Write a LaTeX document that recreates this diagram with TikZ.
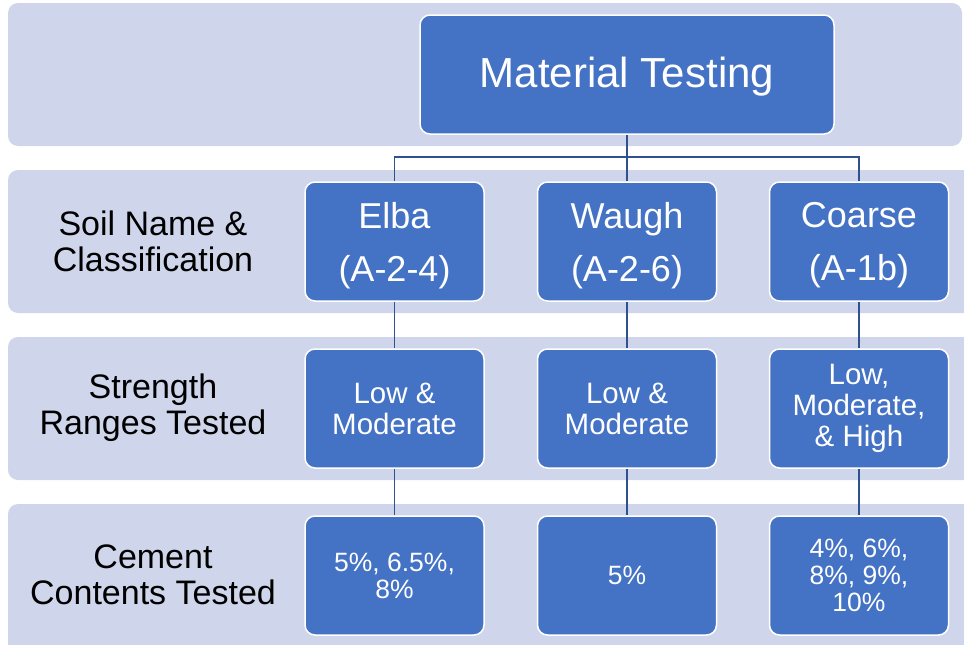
\documentclass[tikz,border=0pt]{standalone}
\usepackage{fontspec}
\setmainfont{Liberation Sans}
\definecolor{bandfill}{HTML}{CFD5EA}
\definecolor{boxfill}{HTML}{4472C4}
\definecolor{linkblue}{HTML}{2F528F}
\tikzset{
  band/.style={fill=bandfill, rounded corners=10pt},
  boxnode/.style={draw=white, line width=1.5pt, fill=boxfill, rounded corners=10pt,
    text=white, align=center, inner sep=0pt, minimum width=179pt, minimum height=119pt},
  rowlabel/.style={align=center, text=black, inner sep=0pt,
    font=\fontsize{34}{36}\selectfont},
  link/.style={draw=linkblue, line width=1.5pt},
  lvltwo/.style={font=\fontsize{36}{53}\selectfont, text depth=0pt},
  lvlthree/.style={font=\fontsize{29.5}{31}\selectfont},
  lvlfour/.style={font=\fontsize{26.5}{27}\selectfont},
}
\begin{document}
\begin{tikzpicture}[x=1pt, y=-1pt]
  \useasboundingbox (0,0) rectangle (964,645);
  \clip (0,0) rectangle (964,645);

  % horizontal bands
  \fill[band] (8,3) rectangle (962,146);
  \fill[band] (8,170) rectangle (985,313);
  \fill[band] (8,337) rectangle (985,480);
  \fill[band] (8,504) rectangle (985,660);

  % row labels
  \node[rowlabel] (lab1) at (153,241) {Soil Name \&\\Classification};
  \node[rowlabel] (lab2) at (153,408) {Strength\\Ranges Tested};
  \node[rowlabel] (lab3) at (153,575) {Cement\\Contents Tested};

  % hierarchy boxes
  \node[boxnode, minimum width=414pt, font=\fontsize{42}{45}\selectfont, text depth=4pt] (top) at (627,74.5) {Material Testing};

  \node[boxnode, lvltwo] (elba)   at (394.5,241.5) {Elba\\(A-2-4)};
  \node[boxnode, lvltwo] (waugh)  at (627,241.5)   {Waugh\\(A-2-6)};
  \node[boxnode, lvltwo] (coarse) at (859,241.5)   {Coarse\\(A-1b)};

  \node[boxnode, lvlthree] (elbaS)   at (394.5,408.5) {Low \&\\Moderate};
  \node[boxnode, lvlthree] (waughS)  at (627,408.5)   {Low \&\\Moderate};
  \node[boxnode, lvlthree] (coarseS) at (859,408.5)   {Low,\\Moderate,\\\& High};

  \node[boxnode, lvlfour] (elbaC)   at (394.5,575.5) {5\%, 6.5\%,\\8\%};
  \node[boxnode, lvlfour] (waughC)  at (627,575.5)   {5\%};
  \node[boxnode, lvlfour] (coarseC) at (859,575.5)   {4\%, 6\%,\\8\%, 9\%,\\10\%};

  % connectors
  \coordinate (bus) at (627,157);
  \draw[link] (top.south) -- (bus);
  \draw[link] (bus) -| (elba.north);
  \draw[link] (bus) -| (coarse.north);
  \draw[link] (bus) -- (waugh.north);
  \draw[link] (elba.south) -- (elbaS.north);
  \draw[link] (waugh.south) -- (waughS.north);
  \draw[link] (coarse.south) -- (coarseS.north);
  \draw[link] (elbaS.south) -- (elbaC.north);
  \draw[link] (waughS.south) -- (waughC.north);
  \draw[link] (coarseS.south) -- (coarseC.north);
\end{tikzpicture}
\end{document}
